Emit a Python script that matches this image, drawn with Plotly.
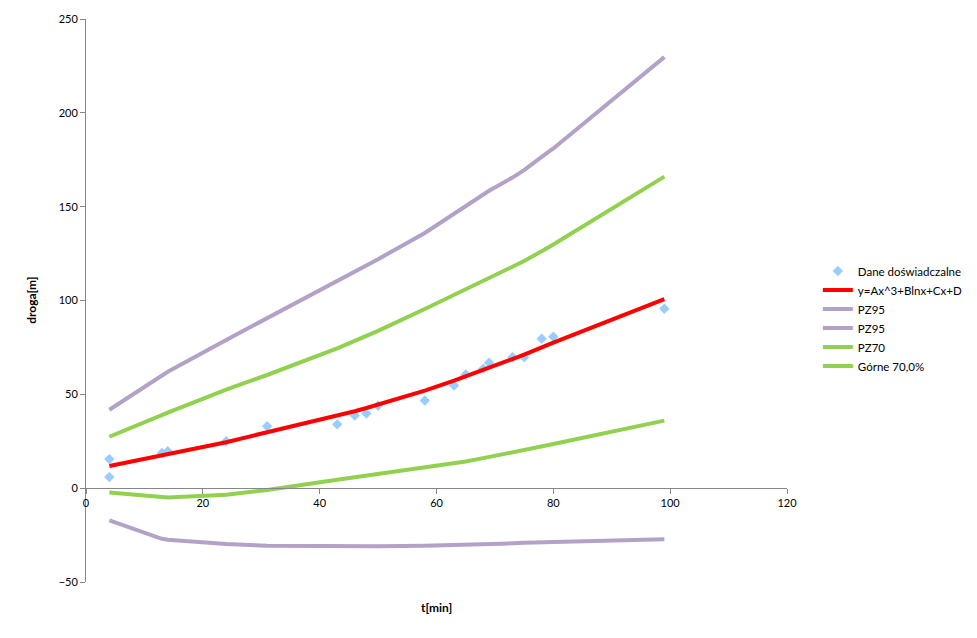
import plotly.graph_objects as go

# Experimental data
t_data = [4, 4, 13, 14, 24, 31, 43, 46, 48, 50, 58, 63, 65, 68, 69, 73, 75, 78, 80, 99]
s_data = [15.5, 5.9, 18.7, 19.7, 25, 33, 34, 38.7, 39.8, 43.9, 46.7, 54.7, 60.6, 63.6, 66.8, 69.8, 69.7, 79.6, 80.7, 95.6]

# Curve x positions
t_line = [4, 13, 14, 24, 31, 43, 46, 48, 50, 58, 63, 65, 68, 69, 73, 75, 78, 80, 99]
fit = [11.8, 17.5, 18.2, 24.5, 29.8, 38.5, 41, 42.7, 44.5, 52, 57.3, 59.5, 63, 64.2, 68.8, 71.2, 75, 77.6, 100.7]
pz95_up = [41.8, 60.5, 62, 79, 90.5, 110, 115, 118.5, 122, 136, 146.5, 150.5, 156.5, 158.5, 165.5, 169.5, 176.5, 181, 229.7]
pz95_lo = [-17.2, -27, -27.5, -29.8, -30.7, -31, -31, -31, -31, -30.7, -30.4, -30.2, -29.9, -29.8, -29.4, -29.1, -28.8, -28.6, -27.2]
pz70_lo = [-2.3, -5, -5, -3.5, -1, 4.5, 5.8, 6.7, 7.5, 10.8, 13, 14.2, 16, 16.6, 19, 20.3, 22.5, 23.5, 36]
pz70_up = [27.4, 39, 40.3, 52.5, 60.3, 74.5, 78.5, 81, 83.8, 95.5, 103, 106, 110, 111.5, 118, 121, 126.3, 129.8, 166]

x_ticks = [0, 20, 40, 60, 80, 100, 120]
y_ticks = [-50, 0, 50, 100, 150, 200, 250]

PURPLE = "#B3A2C7"
GREEN = "#92D050"
RED = "#FF0000"
FONT = "Lato"

fig = go.Figure()
fig.add_trace(go.Scatter(x=t_data, y=s_data, mode="markers", name="Dane doświadczalne",
                         marker=dict(symbol="diamond", color="#99CCFF", size=8)))
fig.add_trace(go.Scatter(x=t_line, y=fit, mode="lines", name="y=Ax^3+Blnx+Cx+D",
                         line=dict(color=RED, width=4)))
fig.add_trace(go.Scatter(x=t_line, y=pz95_up, mode="lines", name="PZ95",
                         line=dict(color=PURPLE, width=4)))
fig.add_trace(go.Scatter(x=t_line, y=pz95_lo, mode="lines", name="PZ95",
                         line=dict(color=PURPLE, width=4)))
fig.add_trace(go.Scatter(x=t_line, y=pz70_lo, mode="lines", name="PZ70",
                         line=dict(color=GREEN, width=4)))
fig.add_trace(go.Scatter(x=t_line, y=pz70_up, mode="lines", name="Górne 70,0%",
                         line=dict(color=GREEN, width=4)))

y_min, y_max = -50, 250
fig.update_layout(
    width=977, height=638,
    margin=dict(l=78, r=198, t=11, b=64),
    paper_bgcolor="white", plot_bgcolor="white",
    font=dict(family=FONT, size=11, color="#000000"),
    showlegend=True,
    legend=dict(x=1.044, y=0.468, xanchor="left", yanchor="middle",
                font=dict(family=FONT, size=11.5, color="#000000"),
                tracegroupgap=0, itemwidth=30),
    xaxis=dict(range=[0, 120], tickvals=x_ticks, showgrid=False, zeroline=False,
               showline=True, linecolor="#868686", linewidth=1, automargin=False,
               ticks="outside", ticklen=5, tickcolor="#868686",
               anchor="free", position=(0 - y_min) / (y_max - y_min),
               tickfont=dict(family=FONT, size=11, color="#000000")),
    yaxis=dict(range=[y_min, y_max], tickvals=y_ticks, showgrid=False, zeroline=False,
               showline=True, linecolor="#868686", linewidth=1, automargin=False,
               ticks="outside", ticklen=5, tickcolor="#868686",
               tickfont=dict(family=FONT, size=11, color="#000000")),
    annotations=[
        dict(text="<b>t[min]</b>", xref="paper", yref="paper", x=0.5, y=-0.046,
             xanchor="center", yanchor="middle", showarrow=False,
             font=dict(family=FONT, size=12, color="#000000")),
        dict(text="<b>droga[m]</b>", xref="paper", yref="paper", x=-0.078, y=0.5,
             xanchor="center", yanchor="middle", showarrow=False, textangle=-90,
             font=dict(family=FONT, size=12, color="#000000")),
    ],
)

fig.write_html("out.html")
